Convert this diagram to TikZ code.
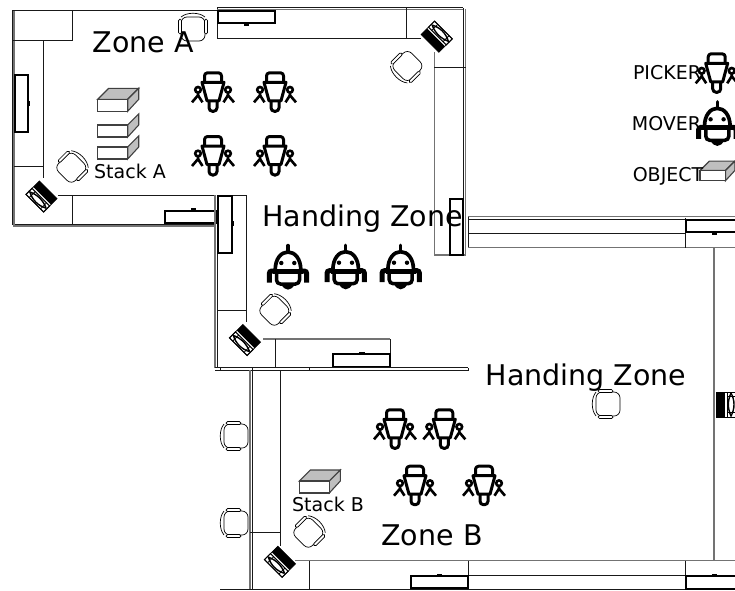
\documentclass[tikz,border=0pt]{standalone}
\usepackage{fontspec}
\setmainfont{DejaVu Sans}
\definecolor{boxgray}{gray}{0.75}
\tikzset{
	wall/.style={line width=1pt,draw=black!90},
	wallgray/.style={line width=1.2pt,draw=black!55},
	desktop/.style={line width=2pt,draw=black,fill=white},
	zonelabel/.style={anchor=base,font=\fontsize{28.5}{28.5}\selectfont,inner sep=0pt},
	smalllabel/.style={anchor=base,font=\fontsize{19}{19}\selectfont,inner sep=0pt},
	picker/.pic={
		\draw[line width=3pt,line join=round,rounded corners=3pt] (-8.5,-10) -- (-8.5,-19.5) -- (8.5,-19.5) -- (8.5,-10);
		\draw[line width=3pt,line join=round] (-11,-10) -- (11,-10) -- (6,8.5) -- (-6,8.5) -- cycle;
		\draw[line width=3pt,rounded corners=3.5pt] (-4,8.5) -- (-4,19) -- (4,19) -- (4,8.5);
		\foreach \sgn in {-1,1} {
			\draw[line width=2.6pt] (\sgn*15,-2.5) circle (2.8pt);
			\draw[line width=2.6pt] (\sgn*15,0.5) -- (\sgn*15,3) -- (\sgn*21,10);
			\draw[line width=2.6pt] (\sgn*15,3) -- (\sgn*10.5,10);
		}
	},
	mover/.pic={
		\draw[line width=3.4pt,line cap=round] (0,-15) -- (0,-21.5);
		\draw[line width=3.7pt] (-12.8,3) .. controls (-12.8,-8) and (-7,-15) .. (0,-15) .. controls (7,-15) and (12.8,-8) .. (12.8,3);
		\draw[line width=5pt] (-15,4.5) -- (15,4.5);
		\draw[line width=3.5pt,rounded corners=4pt] (-11.5,4.5) -- (-11.5,17) -- (11.5,17) -- (11.5,4.5);
		\fill (-6.7,-4) circle (2.2pt);
		\fill (6.3,-4) circle (2.2pt);
		\fill (-7,17) .. controls (-3,24.5) and (3,24.5) .. (7,17) -- cycle;
		\foreach \sgn in {-1,1} {
			\draw[line width=5pt,rounded corners=2.5pt] (\sgn*18.7,15.5) -- (\sgn*18.7,4) -- (\sgn*14,4);
		}
	},
	chair/.pic={
		\draw[line width=0.7pt,fill=white,rounded corners=6pt] (-11,-12) rectangle (13,12);
		\draw[line width=0.7pt,fill=white,rounded corners=1.5pt] (-9,-14.5) rectangle (6,-11.5);
		\draw[line width=0.7pt,fill=white,rounded corners=1.5pt] (-9,11.5) rectangle (6,14.5);
		\draw[line width=0.7pt] (-11,-12) .. controls (-16,-6) and (-16,6) .. (-11,12);
	},
	computer/.pic={
		\draw[line width=0.7pt,fill=white] (-9.5,-12.5) rectangle (9.5,12.5);
		\fill (-9.5,-12.5) rectangle (-1,12.5);
		\draw[line width=1pt] (1,-12.5) rectangle (9.5,12.5);
		\draw[line width=1.4pt,fill=white] (5,-11.5) .. controls (1.5,-4) and (1.5,4) .. (5,11.5) .. controls (9,4) and (9,-4) .. (5,-11.5);
		\draw[line width=0.8pt] (1,-8) -- (9.5,-8) (1,8) -- (9.5,8);
	},
	stackbox/.pic={
		\draw[line width=1.1pt,draw=black!75,fill=boxgray] (0,0) -- (11,-11) -- (41,-11) -- (30,0) -- cycle;
		\draw[line width=1.1pt,draw=black!75,fill=boxgray] (30,0) -- (41,-11) -- (41,0) -- (30,12) -- cycle;
		\draw[line width=1.1pt,draw=black!75,fill=white] (0,0) rectangle (30,12);
	},
	stackside/.pic={
		\draw[line width=1.1pt,draw=black!75,fill=boxgray] (30,0) -- (41,-11) -- (41,0) -- (30,12) -- cycle;
		\draw[line width=1.1pt,draw=black!75,fill=white] (0,0) rectangle (30,12);
	}
}
\begin{document}
\begin{tikzpicture}[x=1pt,y=-1pt]
	
	\clip (0,0) rectangle (735,590);
	
	% room of zone A
	\draw[wall] (217,10) -- (12,10) -- (12,224) -- (216,224);
	
	\draw[wallgray] (14,11) -- (14,226) -- (216,226);
	
	\draw[wall] (72,10) -- (72,40.7) -- (13,40.7);
	
	\draw[wall] (43,40.7) -- (43,178);
	
	\draw[wall] (14,166) -- (43,166);
	
	\draw[wall] (58,195.3) -- (216,195.3);
	
	\draw[wall] (72,195.3) -- (72,225);
	
	\draw[desktop] (15.3,75.3) rectangle (28.3,132);
	
	\fill (28.3,101) rectangle (30,106);
	
	\draw[desktop] (165,210.7) rectangle (215.5,222.7);
	
	\fill (190.5,208) rectangle (196,210);
	
	% top side and right side
	\draw[wall] (217,38.5) -- (217,7.3) -- (463,7.3);
	
	\draw[wallgray] (217,9.5) -- (463,9.5);
	
	\draw[wall] (217,38.5) -- (421,38.5);
	
	\draw[wall] (406,7.3) -- (406,38.5);
	
	\draw[desktop] (218.3,10.7) rectangle (275,23.3);
	
	\fill (243.5,23.3) rectangle (249,25.5);
	
	\draw[wall] (463,8) -- (463,255);
	
	\draw[wallgray] (465.5,9) -- (465.5,255);
	
	\draw[wallgray] (434.3,52) -- (434.3,255) -- (466,255);
	
	\draw[wall] (434.3,67) -- (466,67);
	
	\draw[desktop] (450,199) rectangle (462.7,255);
	
	% handing zone room
	\draw[wall] (217,195) -- (247,195);
	
	\draw[wallgray] (215,195) -- (215,368);
	
	\draw[wall] (217.3,195) -- (217.3,368);
	
	\draw[wall] (246.3,195) -- (246.3,322);
	
	\draw[wall] (217,310) -- (246.3,310);
	
	\draw[desktop] (218.3,196) rectangle (231.7,252.7);
	
	\fill (231.7,221) rectangle (233.5,226);
	
	\draw[wallgray] (263,339) -- (390.3,339);
	
	\draw[wall] (275,339) -- (275,367);
	
	\draw[wall] (390.3,339) -- (390.3,367);
	
	\draw[desktop] (333.3,354) rectangle (390,366.7);
	
	\fill (359,352) rectangle (364.5,354);
	
	\draw[wall] (215,367.7) -- (468,367.7);
	
	\draw[wall] (215,370) -- (468,370) -- (468,367.7);
	
	\draw[wall] (220,367.7) -- (220,370);
	
	\draw[wall] (252,367.7) -- (252,370);
	
	\draw[wall] (309,367.7) -- (309,370);
	
	% right room
	\draw[wallgray] (468.3,216.7) -- (735,216.7);
	
	\draw[wall] (468.3,219) -- (735,219);
	
	\draw[wall] (468.3,216.7) -- (468.3,247.7);
	
	\draw[wall] (468.3,233.3) -- (685,233.3);
	
	\draw[wallgray] (468.3,247.7) -- (735,247.7);
	
	\draw[wall] (685,218) -- (685,247.7);
	
	\draw[desktop] (686,220) rectangle (740,232);
	
	\fill (711.5,233) rectangle (717,235);
	
	\draw[wallgray] (714,247.7) -- (714,560.7);
	
	% room of zone B
	\draw[wallgray] (250,370) -- (250,590);
	
	\draw[wall] (252,370) -- (252,590);
	
	\draw[wall] (280.7,370) -- (280.7,546);
	
	\draw[wall] (250,532.3) -- (280.7,532.3);
	
	\draw[wallgray] (295,560.7) -- (735,560.7);
	
	\draw[wall] (309.3,560.7) -- (309.3,589);
	
	\draw[wall] (468.3,560.7) -- (468.3,589);
	
	\draw[wall] (685,560.7) -- (685,589);
	
	\draw[wall] (468.3,575) -- (685,575);
	
	\draw[wall] (220,589.3) -- (735,589.3);
	
	\draw[desktop] (411,576) rectangle (468.3,588.3);
	
	\fill (436.5,574) rectangle (442,576);
	
	\draw[desktop] (686,575.5) rectangle (740,588.5);
	
	\fill (711.5,573.5) rectangle (717,575.5);
	
	% chairs
	\pic[rotate=-90] at (193,28) {chair};
	
	\pic[rotate=-135] at (72,167) {chair};
	
	\pic[rotate=45] at (406.7,66.7) {chair};
	
	\pic[rotate=-135] at (275,310) {chair};
	
	\pic[rotate=-135] at (309,532) {chair};
	
	\pic at (607,404) {chair};
	
	\pic at (235,436) {chair};
	
	\pic at (235,523) {chair};
	
	% computers
	\pic[rotate=-135] at (41.5,196.5) {computer};
	
	\pic[rotate=45] at (436.7,36.7) {computer};
	
	\pic[rotate=-135] at (245,340) {computer};
	
	\pic[rotate=-135] at (280,561.7) {computer};
	
	\pic at (726,404.5) {computer};
	
	% boxes
	\pic at (97.7,99.3) {stackbox};
	
	\pic at (97.7,125) {stackside};
	
	\pic at (97.7,147) {stackside};
	
	\pic at (299.3,481) {stackbox};
	
	\pic[scale=0.85] at (700,170.5) {stackbox};
	
	% robots
	\pic at (213,92.3) {picker};
	
	\pic at (275,92.3) {picker};
	
	\pic at (213,156) {picker};
	
	\pic at (275,156) {picker};
	
	\pic at (395,429.3) {picker};
	
	\pic at (444.3,429.3) {picker};
	
	\pic at (415,485.7) {picker};
	
	\pic at (484,485.7) {picker};
	
	\pic at (716.7,73.3) {picker};
	
	\pic at (288,267) {mover};
	
	\pic at (345.7,266.7) {mover};
	
	\pic at (400.7,266.7) {mover};
	
	\pic at (717.3,123.3) {mover};
	
	% labels
	\node(zonea) [zonelabel] at (143.5,52.7) {Zone A};
	
	\node(handingone) [zonelabel] at (362.5,226) {Handing Zone};
	
	\node(handingtwo) [zonelabel] at (586,385.7) {Handing Zone};
	
	\node(zoneb) [zonelabel] at (432,545.7) {Zone B};
	
	\node(stacka) [smalllabel] at (130,178.3) {Stack A};
	
	\node(stackb) [smalllabel] at (328,511) {Stack B};
	
	\node(pickerlabel) [smalllabel] at (667,79.3) {PICKER};
	
	\node(moverlabel) [smalllabel] at (666.5,130) {MOVER};
	
	\node(objectlabel) [smalllabel] at (668,181.7) {OBJECT};
	
\end{tikzpicture}
\end{document}
